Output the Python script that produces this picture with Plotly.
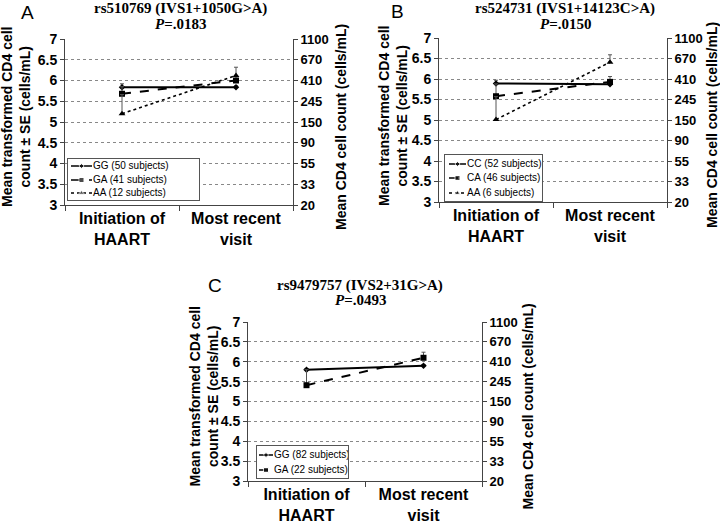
import plotly.graph_objects as go

# ---------------- data ----------------
time_points = [0, 1]
time_labels = ["Initiation of<br>HAART", "Most recent<br>visit"]
left_ticks = [3, 3.5, 4, 4.5, 5, 5.5, 6, 6.5, 7]
left_tick_text = ["3", "3.5", "4", "4.5", "5", "5.5", "6", "6.5", "7"]
right_tick_text = ["20", "33", "55", "90", "150", "245", "410", "670", "1100"]

# Panel A: rs510769
a_names = ["GG (50 subjects)", "GA (41 subjects)", "AA (12 subjects)"]
a_gg = [5.84, 5.84]
a_gg_se = [0.08, 0.03]
a_ga = [5.68, 6.00]
a_ga_se = [0.17, 0.10]
a_aa = [5.20, 6.12]
a_aa_se = [0.46, 0.20]

# Panel B: rs524731
b_names = ["CC (52 subjects)", "CA (46 subjects)", "AA (6 subjects)"]
b_cc = [5.89, 5.87]
b_cc_se = [0.08, 0.03]
b_ca = [5.58, 5.93]
b_ca_se = [0.30, 0.13]
b_aa = [5.01, 6.41]
b_aa_se = [0.56, 0.18]

# Panel C: rs9479757
c_names = ["GG (82 subjects)", "GA (22 subjects)"]
c_gg = [5.80, 5.90]
c_gg_se = [0.03, 0.03]
c_ga = [5.41, 6.10]
c_ga_se = [0.39, 0.14]

W, H = 720, 523
def px(x):
    return x / W
def py(y):
    return 1 - y / H

def bold(s):
    return "<b>" + s.replace("<br>", "</b><br><b>") + "</b>"

styles = [
    dict(dash="solid", symbol="diamond", size=5, width=2),
    dict(dash="dash", symbol="square", size=6, width=2),
    dict(dash="dot", symbol="triangle-up", size=6, width=1.6),
]

fig = go.Figure()

panels = [
    ("x", "y", a_names, [a_gg, a_ga, a_aa], [a_gg_se, a_ga_se, a_aa_se]),
    ("x2", "y2", b_names, [b_cc, b_ca, b_aa], [b_cc_se, b_ca_se, b_aa_se]),
    ("x3", "y3", c_names, [c_gg, c_ga], [c_gg_se, c_ga_se]),
]

for xa, ya, names, vals, ses in panels:
    for i, (nm, v, se) in enumerate(zip(names, vals, ses)):
        st = styles[i]
        fig.add_trace(go.Scatter(
            x=time_points, y=v, name=nm, xaxis=xa, yaxis=ya,
            mode="lines+markers", showlegend=False,
            line=dict(color="black", width=st["width"], dash=st["dash"]),
            marker=dict(symbol=st["symbol"], size=st["size"], color="black"),
            error_y=dict(type="data", array=se, arrayminus=[0] * len(se),
                         symmetric=False, color="#555555", thickness=1, width=2),
        ))

# invisible traces to bind right-hand axes
for xa, ya in [("x", "y4"), ("x2", "y5"), ("x3", "y6")]:
    fig.add_trace(go.Scatter(x=[0], y=[5], xaxis=xa, yaxis=ya, mode="markers",
                             marker=dict(opacity=0), showlegend=False, hoverinfo="skip"))

# geometry (pixels)
geo = {
    "A": dict(x0=65, x1=293, ytop=39, ybot=205, standoff=-1),
    "B": dict(x0=439, x1=667, ytop=38, ybot=202, standoff=-1),
    "C": dict(x0=248, x1=482, ytop=322, ybot=481, standoff=-1),
}

tick_font = dict(family="Liberation Sans", size=14, color="black", weight="bold")
right_font = dict(family="Liberation Sans", size=13, color="black", weight="bold")
cat_font = dict(family="Liberation Sans", size=16, color="black", weight="bold")

layout = {}
for idx, key in enumerate(["A", "B", "C"]):
    g = geo[key]
    n = "" if idx == 0 else str(idx + 1)
    rn = str(idx + 4)
    xdom = [px(g["x0"]), px(g["x1"])]
    ydom = [py(g["ybot"]), py(g["ytop"])]
    layout["xaxis" + n] = dict(
        domain=xdom, anchor="y" + n, range=[-0.5, 1.5], automargin=False,
        tickmode="array", tickvals=time_points, ticktext=[bold(t) for t in time_labels],
        ticks="", showline=True, linecolor="#444444", linewidth=1,
        showgrid=False, zeroline=False, tickfont=cat_font, ticklabelstandoff=g["standoff"],
        minor=dict(tickmode="array", tickvals=[-0.5, 0.5, 1.5], ticks="outside",
                   ticklen=5, tickcolor="#444444", showgrid=False),
    )
    layout["yaxis" + n] = dict(
        domain=ydom, anchor="x" + n, range=[3, 7], automargin=False,
        tickmode="array", tickvals=left_ticks, ticktext=[bold(t) for t in left_tick_text],
        ticks="outside", ticklen=4, tickcolor="#444444",
        showline=True, linecolor="#444444", linewidth=1,
        showgrid=False, zeroline=False, tickfont=tick_font,
        minor=dict(tickmode="array", tickvals=left_ticks[1:-1], ticks="",
                   showgrid=True, gridcolor="#888888", griddash="dot", gridwidth=1),
    )
    layout["yaxis" + rn] = dict(
        overlaying="y" + n, anchor="x" + n, side="right", range=[3, 7], automargin=False,
        tickmode="array", tickvals=left_ticks, ticktext=[bold(t) for t in right_tick_text],
        ticks="outside", ticklen=4, tickcolor="#444444",
        showline=True, linecolor="#444444", linewidth=1,
        showgrid=False, zeroline=False, tickfont=right_font,
    )

# ---------------- custom compact legends (drawn in small pixel-scaled axes) ----------------
legend_boxes = [
    # names, box (x0, y0, x1, y1), row ys, swatch x0, swatch x1
    (a_names, (68, 159, 199, 200), [166, 180, 193], 71, 92),
    (b_names, (445, 155, 542, 201), [164, 178, 193], 449, 466),
    (c_names, (257, 446, 348, 478), [455, 470], 259, 273),
]
for k, (names, (bx0, by0, bx1, by1), rows, sx0, sx1) in enumerate(legend_boxes):
    xa = "x" + str(7 + k)
    ya = "y" + str(7 + k)
    layout["xaxis" + str(7 + k)] = dict(
        domain=[px(bx0), px(bx1)], range=[bx0, bx1], anchor=ya, automargin=False,
        showline=True, mirror=True, linecolor="#555555", linewidth=1,
        showticklabels=False, ticks="", showgrid=False, zeroline=False, fixedrange=True)
    layout["yaxis" + str(7 + k)] = dict(
        domain=[py(by1), py(by0)], range=[by1, by0], anchor=xa, automargin=False,
        showline=True, mirror=True, linecolor="#555555", linewidth=1,
        showticklabels=False, ticks="", showgrid=False, zeroline=False, fixedrange=True)
    # white background
    fig.add_trace(go.Scatter(x=[bx0, bx1, bx1, bx0, bx0], y=[by0, by0, by1, by1, by0],
                             xaxis=xa, yaxis=ya, mode="lines", fill="toself",
                             fillcolor="white", line=dict(width=0, color="white"),
                             showlegend=False, hoverinfo="skip"))
    for i, (nm, ry) in enumerate(zip(names, rows)):
        st = styles[i]
        fig.add_trace(go.Scatter(
            x=[sx0, (sx0 + sx1) / 2, sx1], y=[ry, ry, ry], xaxis=xa, yaxis=ya,
            mode="lines+markers", showlegend=False, hoverinfo="skip",
            line=dict(color="black", width=1.5, dash=st["dash"]),
            marker=dict(symbol=st["symbol"], size=[0, st["size"] - 1, 0], color="black")))
        fig.add_trace(go.Scatter(
            x=[sx1 + 1], y=[ry], xaxis=xa, yaxis=ya, mode="text", text=[nm],
            textposition="middle right", showlegend=False, hoverinfo="skip",
            textfont=dict(family="Liberation Sans", size=10, color="black")))

fig.update_layout(
    width=W, height=H, margin=dict(l=0, r=0, t=0, b=0),
    paper_bgcolor="white", plot_bgcolor="white",
    showlegend=False, **layout,
)

ann = []
title_font = dict(family="Liberation Serif", size=15, color="black")
titles = [
    ("rs510769 (IVS1+1050G&gt;A)", ".0183", 180, 9, "A", 27, 12),
    ("rs524731 (IVS1+14123C&gt;A)", ".0150", 565, 9, "B", 397, 11),
    ("rs9479757 (IVS2+31G&gt;A)", ".0493", 360, 285, "C", 215, 285),
]
for t, p, cx, cy, lab, lx, ly in titles:
    ann.append(dict(text="<b>%s</b>" % t, x=px(cx), y=py(cy), xref="paper", yref="paper",
                    showarrow=False, font=title_font, xanchor="center", yanchor="middle"))
    ann.append(dict(text="<b><i>P</i>=%s</b>" % p, x=px(cx), y=py(cy + 15), xref="paper", yref="paper",
                    showarrow=False, font=title_font, xanchor="center", yanchor="middle"))
    ann.append(dict(text=lab, x=px(lx), y=py(ly), xref="paper", yref="paper",
                    showarrow=False, font=dict(family="Liberation Sans", size=19, color="black"),
                    xanchor="center", yanchor="middle"))

ytitle_font = dict(family="Liberation Sans", size=14, color="black", weight="bold")
for key, lx, rx in [("A", 16, 341), ("B", 393, 712), ("C", 203, 527)]:
    g = geo[key]
    cy = (g["ytop"] + g["ybot"]) / 2
    ann.append(dict(text=bold("Mean transformed CD4 cell<br>count ± SE (cells/mL)"),
                    x=px(lx), y=py(cy - 5), xref="paper", yref="paper", textangle=-90,
                    showarrow=False, font=ytitle_font, xanchor="center", yanchor="middle"))
    ann.append(dict(text=bold("Mean CD4 cell count (cells/mL)"),
                    x=px(rx), y=py(cy + 5), xref="paper", yref="paper", textangle=-90,
                    showarrow=False, font=ytitle_font, xanchor="center", yanchor="middle"))

fig.update_layout(annotations=ann)
fig.write_html("out.html", config={"displayModeBar": False},
               post_script="document.body.style.margin='0';document.body.style.overflow='hidden';")
